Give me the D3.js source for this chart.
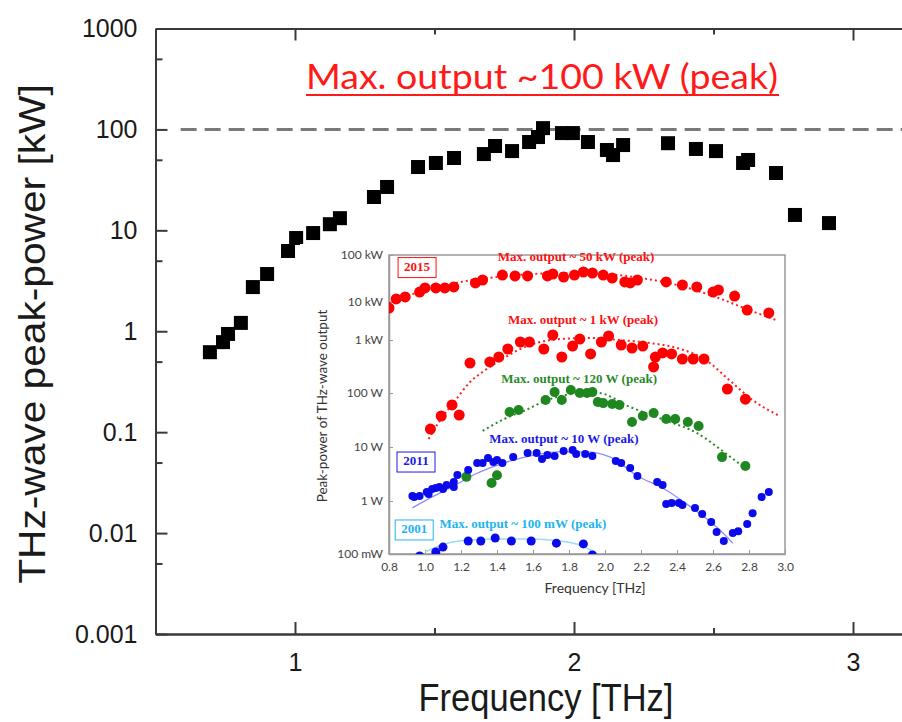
<!DOCTYPE html>
<html>
<head>
<meta charset="utf-8">
<script src="https://cdn.jsdelivr.net/npm/d3@7"></script>
<style>
  body { margin: 0; background: #fff; }
  svg { display: block; }
</style>
</head>
<body>
<svg id="chart" width="902" height="722"></svg>
<script>
// ---------- main chart data (kW vs THz) ----------
const mainFreq = [0.695, 0.742, 0.76, 0.806, 0.849, 0.9, 0.975, 1.004, 1.065, 1.125, 1.161, 1.283,
  1.33, 1.441, 1.505, 1.57, 1.677, 1.717, 1.778, 1.839, 1.871, 1.889, 1.957, 1.996, 2.05, 2.118,
  2.14, 2.176, 2.337, 2.437, 2.509, 2.606, 2.624, 2.724, 2.792, 2.914];
const mainPower = [0.62, 0.78, 0.94, 1.21, 2.74, 3.69, 6.24, 8.39, 9.4, 11.5, 13.2, 21.4,
  26.9, 42.4, 46.5, 52.1, 57, 68.5, 61, 75, 84, 103, 92, 92, 75, 62.5,
  55.7, 70, 73, 64, 61, 46.5, 49.8, 37, 14.2, 11.8];
const mainYTicks = [0.001, 0.01, 0.1, 1, 10, 100, 1000];
const mainYLabels = ["0.001", "0.01", "0.1", "1", "10", "100", "1000"];
const mainYMinor = [0.005, 0.05, 0.5, 5, 50, 500];
const mainXTicks = [1, 2, 3];
const mainXMinor = [1.5, 2.5];
const peakLevel = 100;
const titleText = "Max. output ~100 kW (peak)";

// ---------- inset data (W vs THz) ----------
const insetXTicks = [0.8, 1.0, 1.2, 1.4, 1.6, 1.8, 2.0, 2.2, 2.4, 2.6, 2.8, 3.0];
const insetYTicks = [0.1, 1, 10, 100, 1000, 1e4, 1e5];
const insetYLabels = ["100 mW", "1 W", "10 W", "100 W", "1 kW", "10 kW", "100 kW"];

const red2015Freq = [0.8, 0.84, 0.89, 0.97, 1.0, 1.06, 1.11, 1.16, 1.28, 1.32, 1.43, 1.5, 1.57, 1.68, 1.71, 1.77,
  1.83, 1.88, 1.93, 1.99, 2.04, 2.11, 2.14, 2.18, 2.34, 2.43, 2.51, 2.6, 2.63, 2.72, 2.79, 2.91];
const red2015Power = [6950, 11600, 12800, 16300, 19900, 19900, 19900, 20900, 25400, 29400, 37500, 35800, 35800, 35800, 39400, 34000,
  37500, 43500, 41400, 37500, 32400, 26700, 25400, 29400, 26700, 23000, 20900, 16300, 18000, 13400, 6150, 5140];
const red2015FitFreq = [0.8, 1.0, 1.2, 1.4, 1.6, 1.8, 2.0, 2.2, 2.4, 2.6, 2.8, 2.95];
const red2015FitPower = [9400, 18000, 26700, 34000, 39400, 41400, 39400, 32400, 23000, 13400, 6150, 3360];

const red1kFreq = [1.03, 1.09, 1.15, 1.19, 1.25, 1.36, 1.41, 1.46, 1.53, 1.58, 1.66, 1.71, 1.76, 1.82, 1.86,
  1.92, 1.98, 2.02, 2.09, 2.15, 2.21, 2.27, 2.28, 2.32, 2.37, 2.43, 2.49, 2.55, 2.68, 2.78];
const red1kPower = [21.5, 37.5, 60, 39, 368, 385, 478, 676, 917, 917, 676, 1355, 478, 770, 1060,
  545, 917, 1275, 805, 706, 770, 310, 478, 569, 545, 438, 438, 438, 119, 77];
const red1kFitFreq = [1.02, 1.08, 1.17, 1.25, 1.32, 1.42, 1.53, 1.64, 1.75, 1.92, 2.08, 2.25, 2.42, 2.56, 2.69, 2.82, 2.96];
const red1kFitPower = [14, 30, 74, 161, 249, 419, 676, 917, 1060, 1130, 1000, 877, 676, 419, 176, 74, 39];

const greenFreq = [1.23, 1.37, 1.4, 1.47, 1.52, 1.67, 1.72, 1.76, 1.81, 1.86, 1.9, 1.93, 1.96, 1.99, 2.04,
  2.08, 2.15, 2.21, 2.27, 2.34, 2.39, 2.46, 2.52, 2.65, 2.78];
const greenPower = [2.8, 2.15, 3.0, 44.5, 48.4, 74, 104, 74, 114, 100, 100, 104, 68, 65, 62.5,
  60, 29, 37.5, 42.6, 33, 33, 29, 24.5, 6.5, 4.45];
const greenFitFreq = [1.32, 1.44, 1.56, 1.68, 1.82, 1.96, 2.14, 2.33, 2.51, 2.66, 2.79];
const greenFitPower = [19.8, 33, 48.4, 74, 96, 100, 55, 31.6, 18.2, 8.1, 3.75];

const blueFreq = [0.93, 0.94, 0.97, 1.01, 1.02, 1.04, 1.06, 1.08, 1.1, 1.12, 1.16, 1.16, 1.18, 1.24, 1.29,
  1.32, 1.35, 1.38, 1.4, 1.43, 1.49, 1.57, 1.62, 1.65, 1.68, 1.72, 1.77, 1.82, 1.84, 1.89,
  1.93, 2.06, 2.09, 2.14, 2.18, 2.29, 2.32, 2.34, 2.37, 2.41, 2.43, 2.5, 2.54, 2.59, 2.62,
  2.66, 2.71, 2.74, 2.79, 2.82, 2.87, 2.91];
const bluePower = [1.24, 1.19, 1.24, 1.47, 1.35, 1.67, 1.74, 1.82, 1.67, 1.98, 1.82, 2.25, 3.03, 3.75, 5.06,
  5.06, 6.26, 5.28, 5.74, 5.06, 6.53, 7.74, 7.74, 6.0, 7.1, 6.8, 8.4, 8.8, 7.4, 7.4,
  6.8, 5.5, 5.06, 4.1, 2.9, 2.25, 1.98, 0.88, 0.92, 0.92, 0.84, 0.74, 0.57, 0.40, 0.26,
  0.176, 0.25, 0.27, 0.37, 0.59, 1.19, 1.47];
const blueFitFreq = [0.93, 1.04, 1.16, 1.28, 1.42, 1.58, 1.75, 1.89, 2.03, 2.18, 2.32, 2.47, 2.64, 2.71];
const blueFitPower = [0.74, 1.19, 1.9, 3.16, 4.84, 6.8, 8.1, 8.1, 6.5, 2.9, 1.74, 0.8, 0.28, 0.16];

const old2001Freq = [0.97, 1.06, 1.1, 1.24, 1.31, 1.39, 1.48, 1.59, 1.73, 1.88, 1.93];
const old2001Power = [0.092, 0.109, 0.135, 0.176, 0.176, 0.2, 0.176, 0.176, 0.16, 0.155, 0.096];
const old2001FitFreq = [1.0, 1.11, 1.25, 1.42, 1.58, 1.75, 1.86, 1.94];
const old2001FitPower = [0.109, 0.155, 0.184, 0.192, 0.192, 0.176, 0.148, 0.109];

const notes = [
  {text: "Max. output ~ 50 kW (peak)", f: 1.839, p: 86000, color: "#ff1010"},
  {text: "Max. output ~ 1 kW (peak)", f: 1.878, p: 3160, color: "#ff1010"},
  {text: "Max. output ~ 120 W (peak)", f: 1.856, p: 176, color: "#2a8a2a"},
  {text: "Max. output ~ 10 W (peak)", f: 1.772, p: 13.4, color: "#1a1ae6"},
  {text: "Max. output ~ 100 mW (peak)", f: 1.544, p: 0.353, color: "#22b4ee"}
];
const yearBoxes = [
  {text: "2015", f: 0.956, p: 54000, color: "#ff1010"},
  {text: "2011", f: 0.95, p: 5.27, color: "#1a1ae6"},
  {text: "2001", f: 0.94, p: 0.284, color: "#22b4ee"}
];

// ---------------------------------------------------------------
const svg = d3.select("#chart");
const axisColor = "#3a3a3a";

// main scales
const x = d3.scaleLinear().domain([0.5, 3.2]).range([155.5, 908.8]);
const y = d3.scaleLog().domain([0.001, 1000]).range([634, 28.5]);

const main = svg.append("g");

// bottom axis
main.append("g").attr("transform", "translate(0,634)")
  .call(d3.axisBottom(x).tickValues(mainXTicks).tickSize(-12).tickSizeOuter(0).tickPadding(19).tickFormat(d3.format("d")));
main.append("g").attr("transform", "translate(0,634)")
  .call(d3.axisBottom(x).tickValues(mainXMinor).tickSize(-6).tickSizeOuter(0).tickFormat(""));
// top axis
main.append("g").attr("transform", "translate(0,28.5)")
  .call(d3.axisTop(x).tickValues(mainXTicks).tickSize(-12).tickSizeOuter(0).tickFormat(""));
main.append("g").attr("transform", "translate(0,28.5)")
  .call(d3.axisTop(x).tickValues(mainXMinor).tickSize(-6).tickSizeOuter(0).tickFormat(""));
// left axis
main.append("g").attr("transform", "translate(155.5,0)")
  .call(d3.axisLeft(y).tickValues(mainYTicks).tickSize(-12).tickSizeOuter(0).tickPadding(18)
    .tickFormat((d, i) => mainYLabels[i]));
main.append("g").attr("transform", "translate(155.5,0)")
  .call(d3.axisLeft(y).tickValues(mainYMinor).tickSize(-7).tickSizeOuter(0).tickFormat(""));

main.selectAll(".domain, .tick line").attr("stroke", axisColor).attr("stroke-width", 2);
main.selectAll(".tick text")
  .attr("font-family", "'Liberation Sans', Arial, sans-serif")
  .attr("font-size", 25).attr("fill", "#1a1a1a");

// axis titles
svg.append("text")
  .attr("transform", "translate(546,711) scale(1,1.1)")
  .attr("text-anchor", "middle")
  .attr("font-family", "'Liberation Sans', Arial, sans-serif")
  .attr("font-size", 34.5).attr("fill", "#1a1a1a")
  .text("Frequency [THz]");
svg.append("text")
  .attr("transform", "translate(45,334) rotate(-90) scale(1.1,1)")
  .attr("text-anchor", "middle")
  .attr("font-family", "'Liberation Sans', Arial, sans-serif")
  .attr("font-size", 37).attr("fill", "#1a1a1a")
  .text("THz-wave peak-power [kW]");

// 100 kW reference line
svg.append("line")
  .attr("x1", x(0.59)).attr("x2", 902)
  .attr("y1", y(peakLevel)).attr("y2", y(peakLevel))
  .attr("stroke", "#7a7a7a").attr("stroke-width", 3)
  .attr("stroke-dasharray", "16,8");

// title
svg.append("text")
  .attr("x", 306).attr("y", 89)
  .attr("font-family", "Lato, 'Open Sans', sans-serif")
  .attr("font-size", 34).attr("fill", "#ff1a1a")
  .attr("textLength", 472).attr("lengthAdjust", "spacingAndGlyphs")
  .text(titleText);
svg.append("line")
  .attr("x1", 306).attr("x2", 779).attr("y1", 95).attr("y2", 95)
  .attr("stroke", "#ff1a1a").attr("stroke-width", 2);

// main markers
const mainPts = mainFreq.map((f, i) => ({f: f, p: mainPower[i]}));
svg.append("g").selectAll("rect")
  .data(mainPts).join("rect")
  .attr("x", d => x(d.f) - 7).attr("y", d => y(d.p) - 7)
  .attr("width", 14).attr("height", 14)
  .attr("fill", "#000");

// ---------------------------------------------------------------
// inset
const ix = d3.scaleLinear().domain([0.8, 3.0]).range([389, 785]);
// the pasted inset has uneven decade spacing, so the log scale is piecewise
const iy = d3.scaleLog().domain(insetYTicks).range([554, 501, 447, 393, 340, 302, 255]);

const inset = svg.append("g");
inset.append("rect").attr("x", 300).attr("y", 244).attr("width", 500).attr("height", 358).attr("fill", "#fff");

svg.append("defs").append("clipPath").attr("id", "insetClip")
  .append("rect").attr("x", 389).attr("y", 255).attr("width", 396).attr("height", 299);

const insetSans = "Lato, 'Open Sans', sans-serif";
const insetSerif = "'Liberation Serif', 'Times New Roman', serif";

inset.append("g").attr("transform", "translate(0,554)")
  .call(d3.axisBottom(ix).tickValues(insetXTicks).tickSize(-4).tickSizeOuter(0).tickPadding(8)
    .tickFormat(d3.format(".1f")));
inset.append("g").attr("transform", "translate(389,0)")
  .call(d3.axisLeft(iy).tickValues(insetYTicks).tickSize(-4).tickSizeOuter(0).tickPadding(6)
    .tickFormat((d, i) => insetYLabels[i]));
inset.selectAll(".tick text").attr("font-family", insetSans).attr("font-size", 12).attr("fill", "#444");
inset.selectAll(".tick line").attr("stroke", "#999");
inset.selectAll(".domain").attr("stroke", "#999").attr("stroke-width", 1.5);
// frame top/right
inset.append("rect").attr("x", 389).attr("y", 255).attr("width", 396).attr("height", 299)
  .attr("fill", "none").attr("stroke", "#999").attr("stroke-width", 1.5);

inset.append("text")
  .attr("x", 595).attr("y", 593).attr("text-anchor", "middle")
  .attr("font-family", insetSans).attr("font-size", 14).attr("fill", "#333")
  .text("Frequency [THz]");
inset.append("text")
  .attr("transform", "translate(327,406) rotate(-90)")
  .attr("text-anchor", "middle")
  .attr("font-family", insetSans).attr("font-size", 13.5).attr("fill", "#333")
  .text("Peak-power of THz-wave output");

const plot = inset.append("g").attr("clip-path", "url(#insetClip)");
const line = d3.line().x(d => ix(d.f)).y(d => iy(d.p)).curve(d3.curveMonotoneX);
const zip = (fs, ps) => fs.map((f, i) => ({f: f, p: ps[i]}));

function fitLine(fs, ps, color, width, dash) {
  plot.append("path")
    .attr("d", line(zip(fs, ps)))
    .attr("fill", "none").attr("stroke", color)
    .attr("stroke-width", width)
    .attr("stroke-dasharray", dash);
}
function dots(fs, ps, color, r) {
  plot.append("g").selectAll("circle")
    .data(zip(fs, ps)).join("circle")
    .attr("cx", d => ix(d.f)).attr("cy", d => iy(d.p)).attr("r", r)
    .attr("fill", color);
}

fitLine(red2015FitFreq, red2015FitPower, "#ff2020", 2, "2,3");
fitLine(red1kFitFreq, red1kFitPower, "#ff2020", 2, "2,3");
fitLine(greenFitFreq, greenFitPower, "#2a8a2a", 2, "2,3");
fitLine(blueFitFreq, blueFitPower, "#8c8cff", 1.3, null);
fitLine(old2001FitFreq, old2001FitPower, "#9adcf6", 1.5, null);

dots(red2015Freq, red2015Power, "#ff0000", 5.5);
dots(red1kFreq, red1kPower, "#ff0000", 5.5);
dots(greenFreq, greenPower, "#1f871f", 5);
dots(blueFreq, bluePower, "#0a0aeb", 4);
dots(old2001Freq, old2001Power, "#0a0aeb", 4.5);

// annotations
inset.selectAll("text.note")
  .data(notes).join("text").attr("class", "note")
  .attr("x", d => ix(d.f)).attr("y", d => iy(d.p))
  .attr("text-anchor", "middle").attr("dominant-baseline", "middle")
  .attr("font-family", insetSerif).attr("font-weight", "bold").attr("font-size", 13)
  .attr("fill", d => d.color)
  .text(d => d.text);

const boxes = inset.selectAll("g.year").data(yearBoxes).join("g").attr("class", "year")
  .attr("transform", d => `translate(${ix(d.f)},${iy(d.p)})`);
boxes.append("rect")
  .attr("x", -19).attr("y", -10).attr("width", 38).attr("height", 20)
  .attr("fill", "#fff").attr("stroke", d => d.color).attr("stroke-width", 1);
boxes.append("text")
  .attr("text-anchor", "middle").attr("dominant-baseline", "middle")
  .attr("font-family", insetSerif).attr("font-weight", "bold").attr("font-size", 13)
  .attr("fill", d => d.color)
  .text(d => d.text);
</script>
</body>
</html>
